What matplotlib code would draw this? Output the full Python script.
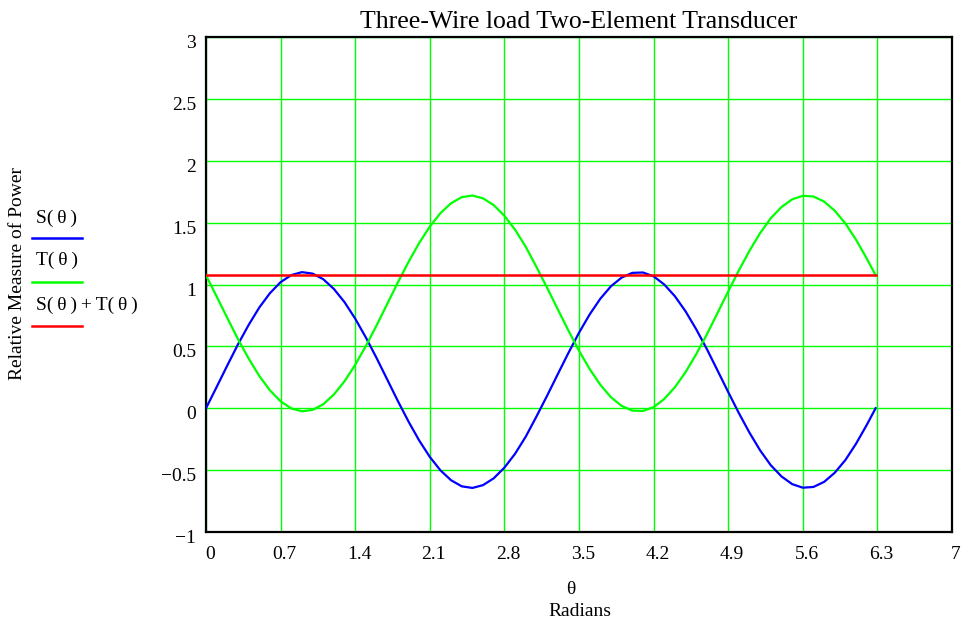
import numpy as np
import matplotlib
matplotlib.use("Agg")
import matplotlib.pyplot as plt
from matplotlib.lines import Line2D
from matplotlib.transforms import ScaledTranslation

plt.rcParams['font.family'] = ['Liberation Serif', 'DejaVu Serif']
plt.rcParams['axes.unicode_minus'] = True

# theta samples (radians) and values
theta = [0.0, 0.1, 0.2, 0.3, 0.4, 0.5, 0.6, 0.7, 0.8, 0.9,
         1.0, 1.1, 1.2, 1.3, 1.4, 1.5, 1.6, 1.7, 1.8, 1.9,
         2.0, 2.1, 2.2, 2.3, 2.4, 2.5, 2.6, 2.7, 2.8, 2.9,
         3.0, 3.1, 3.2, 3.3, 3.4, 3.5, 3.6, 3.7, 3.8, 3.9,
         4.0, 4.1, 4.2, 4.3, 4.4, 4.5, 4.6, 4.7, 4.8, 4.9,
         5.0, 5.1, 5.2, 5.3, 5.4, 5.5, 5.6, 5.7, 5.8, 5.9,
         6.0, 6.1, 6.2, 6.283]

S = [0.000, 0.172, 0.346, 0.516, 0.673, 0.814, 0.930, 1.019, 1.076, 1.100,
     1.088, 1.043, 0.964, 0.857, 0.724, 0.572, 0.407, 0.233, 0.059, -0.107,
     -0.260, -0.393, -0.502, -0.582, -0.631, -0.644, -0.621, -0.566, -0.480, -0.368,
     -0.230, -0.068, 0.100, 0.274, 0.446, 0.610, 0.758, 0.885, 0.986, 1.056,
     1.094, 1.097, 1.066, 1.000, 0.905, 0.783, 0.638, 0.478, 0.305, 0.131,
     -0.039, -0.198, -0.341, -0.461, -0.551, -0.613, -0.642, -0.636, -0.595, -0.521,
     -0.418, -0.286, -0.135, 0.000]

T = [1.075, 0.903, 0.729, 0.559, 0.402, 0.261, 0.145, 0.056, -0.001, -0.025,
     -0.013, 0.032, 0.111, 0.218, 0.351, 0.503, 0.668, 0.842, 1.016, 1.182,
     1.335, 1.468, 1.577, 1.657, 1.706, 1.719, 1.696, 1.641, 1.555, 1.443,
     1.305, 1.143, 0.975, 0.801, 0.629, 0.465, 0.317, 0.190, 0.089, 0.019,
     -0.019, -0.022, 0.009, 0.075, 0.170, 0.292, 0.437, 0.597, 0.770, 0.944,
     1.114, 1.273, 1.416, 1.536, 1.626, 1.688, 1.717, 1.711, 1.670, 1.596,
     1.493, 1.361, 1.210, 1.075]

x_ticks = [0, 0.7, 1.4, 2.1, 2.8, 3.5, 4.2, 4.9, 5.6, 6.3, 7]
x_labels = ["0", "0.7", "1.4", "2.1", "2.8", "3.5", "4.2", "4.9", "5.6", "6.3", "7"]
y_ticks = [-1, -0.5, 0, 0.5, 1, 1.5, 2, 2.5, 3]
y_labels = ["\u22121", "\u22120.5", "0", "0.5", "1", "1.5", "2", "2.5", "3"]

BLUE = "#0000ff"
GREEN = "#00ff00"
RED = "#ff0000"

fig = plt.figure(figsize=(9.68, 6.27), dpi=100)
ax = fig.add_axes([206 / 968, 1 - 532 / 627, 746 / 968, 495 / 627])

total = np.array(S) + np.array(T)

ax.plot(theta, S, color=BLUE, lw=1.6, zorder=3)
ax.plot(theta, T, color=GREEN, lw=1.6, zorder=3)
ax.plot(theta, total, color=RED, lw=1.8, zorder=4)

ax.set_xlim(0, 7)
ax.set_ylim(-1, 3)
ax.set_xticks(x_ticks)
ax.set_xticklabels(x_labels)
ax.set_yticks(y_ticks)
ax.set_yticklabels(y_labels)
ax.tick_params(length=0, labelsize=14)
ax.tick_params(axis="x", pad=10)
ax.tick_params(axis="y", pad=7)
# Mathcad puts the labels a little right of / below their grid line
for lab in ax.get_xticklabels():
    lab.set_transform(lab.get_transform() + ScaledTranslation(4 / 100, 0, fig.dpi_scale_trans))
for lab in ax.get_yticklabels():
    lab.set_transform(lab.get_transform() + ScaledTranslation(0, -4.5 / 100, fig.dpi_scale_trans))

ax.grid(True, color=GREEN, lw=1.0, zorder=1)
ax.set_axisbelow(True)
for sp in ax.spines.values():
    sp.set_color("black")
    sp.set_linewidth(1.6)

ax.set_title("Three-Wire load Two-Element Transducer", fontsize=18.5, pad=6.5)

fig.text(571 / 968, 1 - 590 / 627, "\u03b8", fontsize=14, ha="center", va="center")
fig.text(580 / 968, 1 - 611 / 627, "Radians", fontsize=14, ha="center", va="center")
fig.text(18 / 968, 1 - 274 / 627, "Relative Measure of Power", fontsize=14,
         rotation=90, ha="center", va="center")

# legend drawn under each label, the way the original lays it out
legend_items = [("S(\u2009\u03b8\u2009)", BLUE, 218, 238),
                ("T(\u2009\u03b8\u2009)", GREEN, 260, 282),
                ("S(\u2009\u03b8\u2009)\u2009+\u2009T(\u2009\u03b8\u2009)", RED, 305, 326)]
for label, col, ty, ly in legend_items:
    fig.text(36 / 968, 1 - ty / 627, label, fontsize=14, ha="left", va="center")
    fig.add_artist(Line2D([32 / 968, 82 / 968], [1 - ly / 627, 1 - ly / 627],
                          color=col, lw=1.8, transform=fig.transFigure))

fig.savefig("out.png", dpi=100)
